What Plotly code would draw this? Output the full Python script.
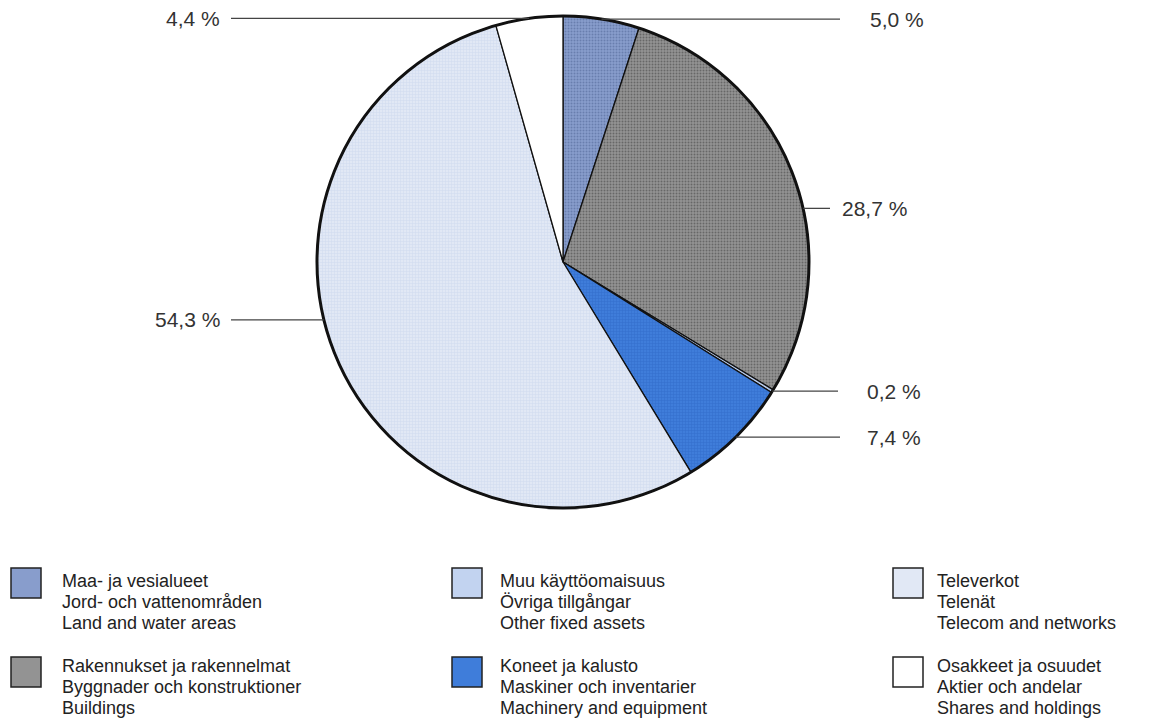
import math
import plotly.graph_objects as go

# ---------------- data ----------------
categories_fi = ["Maa- ja vesialueet", "Rakennukset ja rakennelmat", "Muu käyttöomaisuus",
                 "Koneet ja kalusto", "Televerkot", "Osakkeet ja osuudet"]
categories_sv = ["Jord- och vattenområden", "Byggnader och konstruktioner", "Övriga tillgångar",
                 "Maskiner och inventarier", "Telenät", "Aktier och andelar"]
categories_en = ["Land and water areas", "Buildings", "Other fixed assets",
                 "Machinery and equipment", "Telecom and networks", "Shares and holdings"]
share_pct = [5.0, 28.7, 0.2, 7.4, 54.3, 4.4]

# ---------------- style ----------------
W, H = 1151, 719
cx, cy, r = 563, 262, 246
fill_colors = ["#889dcc", "#939393", "#c2d3f0", "#3f7dda", "#e1e8f5", "#ffffff"]
pattern_fg = ["#4a5f90", "#3c3c3c", "#93aedc", "#2a62c0", "#c3d1ea", "#ffffff"]
pattern_shape = [".", ".", "+", "+", "+", ""]
label_anchor = [0.5, 0.575, 0.5, 0.5, 0.551, 0.5]   # where along the slice the leader starts
right_line_end = [840, 830, 838, 840]
right_text_x = [868, 840, 865, 865]
left_line_end = 231
left_text_right = 222
txt_color = "#333333"
FONT = "Liberation Sans, Arial, sans-serif"

fig = go.Figure()

fig.add_trace(go.Pie(
    values=share_pct,
    labels=categories_en,
    sort=False,
    direction="clockwise",
    rotation=0,
    textinfo="none",
    hoverinfo="label+percent",
    showlegend=False,
    marker=dict(
        colors=fill_colors,
        line=dict(color="#111111", width=1.3),
        pattern=dict(shape=pattern_shape, fgcolor=pattern_fg, fillmode="overlay",
                     size=3, solidity=0.35),
    ),
    domain=dict(x=[(cx - r) / W, (cx + r) / W], y=[1 - (cy + r) / H, 1 - (cy - r) / H]),
))

shapes = []
annotations = []

# outer ring
shapes.append(dict(type="circle", xref="x", yref="y", x0=cx - r, x1=cx + r, y0=cy - r, y1=cy + r,
                   line=dict(color="#111111", width=3), layer="above"))

# leader lines + percentage labels
total = sum(share_pct)
cum = 0.0
ri = 0
for i, v in enumerate(share_pct):
    a0 = cum / total * 360
    a1 = (cum + v) / total * 360
    cum += v
    th = math.radians(a0 + label_anchor[i] * (a1 - a0))
    px = cx + r * math.sin(th)
    py = cy - r * math.cos(th)
    txt = f"{v:.1f}".replace(".", ",") + " %"
    if px >= cx:
        xe = right_line_end[ri]
        tx = right_text_x[ri]
        ri += 1
        shapes.append(dict(type="line", xref="x", yref="y", x0=px, x1=xe, y0=py, y1=py,
                           line=dict(color="#444444", width=1.3)))
        annotations.append(dict(x=tx, y=py, xref="x", yref="y", text=txt, showarrow=False,
                                xanchor="left", yanchor="middle",
                                font=dict(family=FONT, size=21, color=txt_color)))
    else:
        shapes.append(dict(type="line", xref="x", yref="y", x0=left_line_end, x1=px, y0=py, y1=py,
                           line=dict(color="#444444", width=1.3)))
        annotations.append(dict(x=left_text_right, y=py, xref="x", yref="y", text=txt,
                                showarrow=False, xanchor="right", yanchor="middle",
                                font=dict(family=FONT, size=21, color=txt_color)))

# custom legend (3 columns x 2 rows)
sw_x = [11, 452, 893]
tx_x = [60, 498, 935]
sw_top = [568, 657]
sw = 30
base_lines = [[587, 608, 629], [672, 693, 714]]
for i in range(len(share_pct)):
    col, row = i // 2, i % 2
    shapes.append(dict(type="rect", xref="x", yref="y", x0=sw_x[col], x1=sw_x[col] + sw,
                       y0=sw_top[row], y1=sw_top[row] + sw,
                       fillcolor=fill_colors[i], line=dict(color="#222222", width=1.5)))
    for k, t in enumerate([categories_fi[i], categories_sv[i], categories_en[i]]):
        annotations.append(dict(x=tx_x[col], y=base_lines[row][k] - 6, xref="x", yref="y", text=t,
                                showarrow=False, xanchor="left", yanchor="middle",
                                font=dict(family=FONT, size=18, color="#222222")))

fig.update_layout(
    width=W, height=H,
    margin=dict(l=0, r=0, t=0, b=0),
    paper_bgcolor="white", plot_bgcolor="rgba(0,0,0,0)",
    xaxis=dict(range=[0, W], visible=False, fixedrange=True, domain=[0, 1]),
    yaxis=dict(range=[H, 0], visible=False, fixedrange=True, domain=[0, 1]),
    shapes=shapes,
    annotations=annotations,
    showlegend=False,
)

fig.write_html("out.html", config={"displayModeBar": False},
               post_script="document.body.style.margin='0';document.body.style.overflow='hidden';")
